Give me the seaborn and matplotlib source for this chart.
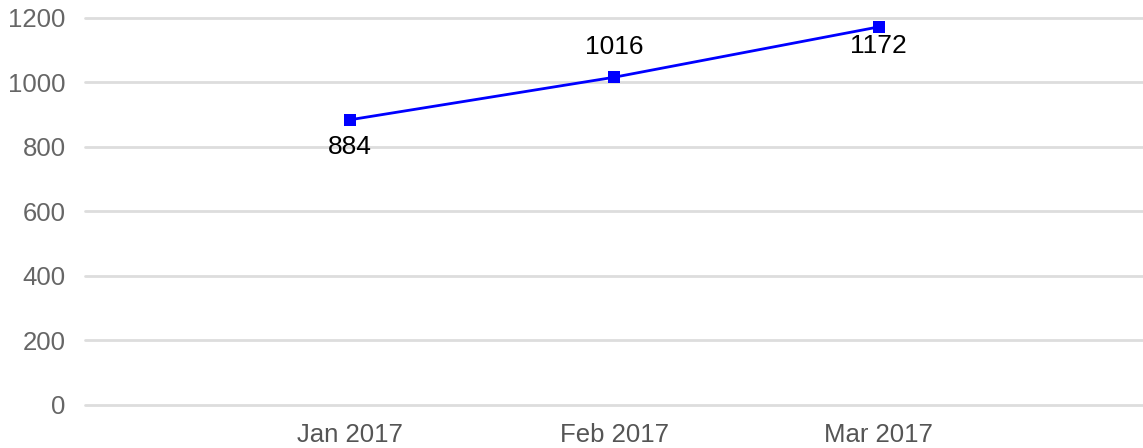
import seaborn as sns
import matplotlib.pyplot as plt
import pandas as pd

sns.set_theme(style="white")
plt.rcParams['font.family'] = ['Liberation Sans', 'DejaVu Sans']

months = ["Jan 2017", "Feb 2017", "Mar 2017"]
values = [884, 1016, 1172]
# label offsets in points (negative = below the point)
label_offsets = [-19.5, 21.5, -13.5]

df = pd.DataFrame({"month": months, "value": values})

fig = plt.figure(figsize=(11.43, 4.48), dpi=100)
ax = fig.add_axes([0.0744, 0.096, 0.9256, 0.864])

sns.lineplot(x="month", y="value", data=df, ax=ax, color="#0000FF",
             linewidth=2, marker="s", markersize=8, markeredgewidth=0,
             sort=False, clip_on=False, zorder=3)

for i, (m, v) in enumerate(zip(months, values)):
    ax.annotate(str(v), (i, v), xytext=(0, label_offsets[i]),
                textcoords="offset points", ha="center", va="center",
                fontsize=19, color="black")

ax.set_xlim(-1, 3)
ax.set_ylim(0, 1200)
ax.set_yticks(range(0, 1201, 200))
ax.grid(axis="y", color="#dddddd", linewidth=2)
ax.grid(axis="x", visible=False)
for gl in ax.yaxis.get_gridlines():
    gl.set_clip_on(False)
for s in ax.spines.values():
    s.set_visible(False)
ax.tick_params(axis="y", length=0, pad=14, labelsize=18.5, labelcolor="#666666")
ax.tick_params(axis="x", length=0, pad=13, labelsize=18.5, labelcolor="#555555")
ax.set_xlabel("")
ax.set_ylabel("")

fig.savefig("out.png", dpi=100)
